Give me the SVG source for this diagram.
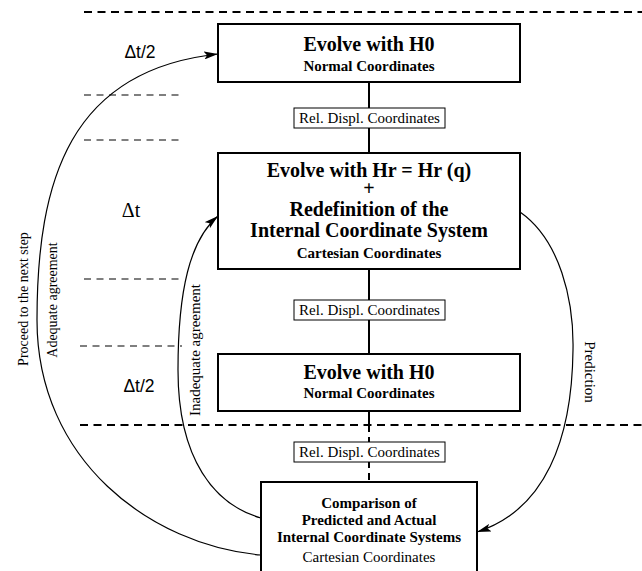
<svg xmlns="http://www.w3.org/2000/svg" width="642" height="571" viewBox="0 0 642 571">
<style>
text{fill:#000;text-anchor:middle}
.t{font-size:20px;font-weight:bold}
.s{font-size:15px;font-weight:bold}
.r{font-size:15px}
.v{font-size:14px}
.d{font-size:17.5px;font-family:'Liberation Sans', Arial, sans-serif}
.dd{font-size:20px}
.box{fill:#fff;stroke:#000;stroke-width:2}
.lab{fill:#fff;stroke:#000;stroke-width:1}
.thick{stroke:#000;stroke-width:2;stroke-dasharray:8,5.5;fill:none}
.thin{stroke:#000;stroke-width:1.2;stroke-dasharray:7,5.5;fill:none}
.curve{stroke:#000;stroke-width:1.2;fill:none}
</style>
<defs>
<marker id="ah" viewBox="0 0 14 8" refX="14" refY="4" markerWidth="14" markerHeight="8" markerUnits="userSpaceOnUse" orient="auto">
<path d="M0,0 L14,4 L0,8 L3,4 Z" fill="#000"/>
</marker>
</defs>
<g font-family="'Liberation Serif', 'DejaVu Serif', serif">
<g id="guides">
<line class="thick" x1="84" y1="12" x2="642" y2="12"/>
<line class="thick" x1="80" y1="425" x2="642" y2="425"/>
<line class="thin" x1="84" y1="95" x2="184" y2="95"/>
<line class="thin" x1="84" y1="140" x2="184" y2="140"/>
<line class="thin" x1="84" y1="279" x2="184" y2="279"/>
<line class="thin" x1="80" y1="346" x2="182" y2="346"/>
<text class="d" x="140" y="58">Δt/2</text>
<text class="dd" x="131" y="217">Δt</text>
<text class="d" x="139" y="392">Δt/2</text>
</g>
<g id="connectors">
<line x1="369" y1="82" x2="369" y2="153" stroke="#000" stroke-width="2"/>
<line x1="369" y1="269" x2="369" y2="354" stroke="#000" stroke-width="2"/>
<line x1="369" y1="411" x2="369" y2="425" stroke="#000" stroke-width="2"/>
<line x1="369" y1="425" x2="369" y2="482" stroke="#000" stroke-width="2" stroke-dasharray="7,5"/>
<path class="curve" d="M261,555 C150,545 37,460 37,320 C37,180 70,70 218,54" marker-end="url(#ah)"/>
<path class="curve" d="M261,518 C215,505 178,460 178,370 C178,290 190,240 218,216" marker-end="url(#ah)"/>
<path class="curve" d="M520,212 C560,240 574,300 573,350 C572,440 545,510 477,532" marker-end="url(#ah)"/>
<text class="v" transform="translate(28,299) rotate(-90)">Proceed to the next step</text>
<text class="v" transform="translate(57,300) rotate(-90)">Adequate agreement</text>
<text class="r" transform="translate(200,350) rotate(-90)">Inadequate agreement</text>
<text class="r" transform="translate(585,372) rotate(90)">Prediction</text>
</g>
<g id="lab1"><rect class="lab" x="294" y="108" width="151" height="20"/><text class="r" x="369.5" y="123">Rel. Displ. Coordinates</text></g>
<g id="lab2"><rect class="lab" x="294" y="300" width="151" height="20"/><text class="r" x="369.5" y="315">Rel. Displ. Coordinates</text></g>
<g id="lab3"><rect class="lab" x="294" y="442" width="151" height="20"/><text class="r" x="369.5" y="457">Rel. Displ. Coordinates</text></g>
<g id="box1">
<rect class="box" x="218" y="24" width="302" height="58"/>
<text class="t" x="369" y="51">Evolve with H0</text>
<text class="s" x="369" y="71">Normal Coordinates</text>
</g>
<g id="box2">
<rect class="box" x="218" y="153" width="302" height="116"/>
<text class="t" x="369" y="177">Evolve with Hr = Hr (q)</text>
<text class="t" x="369" y="194.8" font-size="14.5">+</text>
<text class="t" x="369" y="216">Redefinition of the</text>
<text class="t" x="369" y="237">Internal Coordinate System</text>
<text class="s" x="369" y="258">Cartesian Coordinates</text>
</g>
<g id="box3">
<rect class="box" x="218" y="354" width="302" height="57"/>
<text class="t" x="369" y="379">Evolve with H0</text>
<text class="s" x="369" y="398">Normal Coordinates</text>
</g>
<g id="box4">
<rect class="box" x="261" y="482" width="216" height="100"/>
<text class="s" x="369" y="508">Comparison of</text>
<text class="s" x="369" y="525">Predicted and Actual</text>
<text class="s" x="369" y="542">Internal Coordinate Systems</text>
<text class="r" x="369" y="562">Cartesian Coordinates</text>
</g>
</g>
</svg>
